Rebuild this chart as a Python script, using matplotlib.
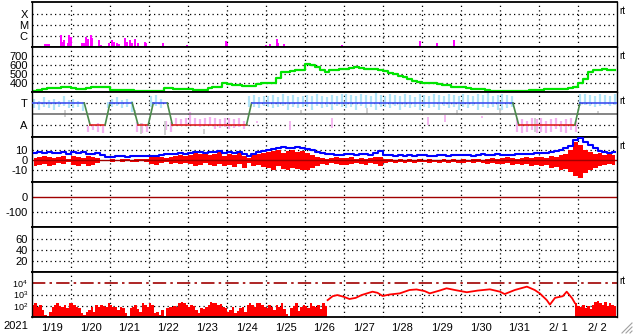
import numpy as np
import matplotlib
matplotlib.use("Agg")
import matplotlib.pyplot as plt
from matplotlib.lines import Line2D

plt.rcParams["font.family"] = ["Liberation Sans", "DejaVu Sans"]
plt.rcParams["mathtext.default"] = "regular"

# x axis: days since 2021-01-19 00:00
day_labels = ["1/19", "1/20", "1/21", "1/22", "1/23", "1/24", "1/25", "1/26",
              "1/27", "1/28", "1/29", "1/30", "1/31", "2/ 1", "2/ 2"]
year_label = "2021"

# panel 1: x-ray flares (decades above background, C=1, M=2, X=3)
flare_t = [0.33, 0.39, 0.44, 0.745, 0.80, 0.82, 0.92, 0.95, 1.01, 1.28, 1.34,
           1.39, 1.44, 1.52, 1.54, 1.72, 1.77, 1.98, 2.05, 2.11, 2.17, 2.23,
           2.39, 2.44, 2.52, 2.57, 2.65, 2.72, 2.90, 2.93, 3.37, 3.98, 4.98,
           5.01, 5.99, 6.11, 6.27, 6.32, 6.47, 7.94, 7.96, 8.89, 9.94, 10.39,
           10.83]
flare_h = [0.27, 0.25, 0.27, 1.1, 0.48, 0.64, 0.36, 1.1, 0.88, 0.4, 0.35,
           0.94, 0.75, 1.1, 0.85, 0.6, 0.2, 0.35, 0.6, 0.5, 0.4, 0.3,
           0.85, 0.5, 0.64, 0.35, 0.7, 0.35, 0.5, 0.35, 0.35, 0.2, 0.55,
           0.4, 0.2, 0.3, 0.73, 0.4, 0.25, 0.2, 0.18, 0.1, 0.55, 0.4,
           0.64]

# panel 2: solar wind speed (km/s), 3-hour values
speed = [315, 325, 333, 340, 345, 348, 350, 350,
         340, 338, 337, 340, 350, 352, 355, 358,
         322, 322, 320, 320, 318, 316, 315, 315,
         312, 311, 315, 340, 342, 338, 330, 330,
         328, 322, 320, 322, 340, 352, 355, 395,
         385, 378, 375, 372, 370, 368, 385, 398,
         398, 402, 450, 520, 525, 530, 545, 548,
         610, 595, 575, 545, 520, 540, 545, 550,
         560, 572, 575, 572, 560, 552, 550, 545,
         530, 510, 500, 480, 470, 440, 425, 410,
         405, 402, 400, 385, 378, 375, 360, 352,
         350, 340, 333, 333, 330, 322, 316, 315,
         316, 315, 315, 314, 315, 316, 318, 320,
         325, 328, 330, 330, 330, 332, 340, 358,
         400, 445, 520, 540, 545, 550, 540, 548]

# panel 3: IMF sector (T=1, A=0)
sector_t = [0, 1.34, 1.49, 1.875, 2.0, 2.57, 2.72, 2.98, 3.11, 3.47, 3.60,
            5.50, 5.63, 12.33, 12.48, 13.92, 14.05, 15]
sector_v = [1, 1, 0, 0, 1, 1, 0, 0, 1, 1, 0, 0, 1, 1, 0, 0, 1, 1]
phi_hi = [1.2, 1.1, 1.25, 1.15, 1.2, 1.1, 1.3, 1.15,
          1.2, 1.1, 1.0, -0.05, 0.0, 0.1, -0.05, 1.05,
          1.2, 1.25, 1.15, 1.2, 1.1, 0.15, 0.1, 0.05,
          1.3, 1.35, 1.2, 0.2, 0.15, 0.3, 0.25, 0.3,
          0.6, 0.3, 0.25, 0.3, 0.35, 0.3, 0.25, 0.3,
          0.3, 0.25, 0.3, 0.2, 1.3, 1.35, 1.25, 1.3,
          1.3, 1.35, 1.25, 1.4, 1.3, 1.35, 1.25, 1.3,
          1.35, 1.3, 1.4, 1.3, 1.25, 1.35, 1.3, 1.4,
          1.4, 1.35, 1.3, 1.4, 1.35, 1.3, 1.45, 1.35,
          1.3, 1.4, 1.35, 1.3, 1.4, 1.35, 1.25, 1.4,
          1.35, 1.3, 1.4, 1.35, 1.3, 1.4, 1.35, 1.3,
          1.4, 1.35, 1.3, 1.4, 1.35, 1.45, 1.3, 1.35,
          1.4, 1.35, 1.3, 0.3, 0.25, 0.2, 0.3, 0.25,
          0.3, 0.2, 0.25, 0.3, 0.2, 0.25, 0.3, 0.2,
          1.4, 1.4, 1.35, 1.3, 1.4, 1.35, 1.3, 1.4]
phi_lo = [0.75, 0.7, 0.8, 0.75, 0.7, 0.8, 0.85, 0.75,
          0.75, 0.8, 0.65, -0.3, -0.25, -0.3, -0.35, 0.75,
          0.8, 0.85, 0.75, 0.8, 0.6, -0.3, -0.35, -0.3,
          0.8, 0.85, 0.75, -0.25, -0.3, 0.0, -0.05, 0.0,
          0.05, 0.0, -0.1, 0.0, -0.05, -0.2, -0.15, -0.1,
          -0.2, -0.15, -0.1, -0.2, 0.8, 0.8, 0.75, 0.85,
          0.8, 0.75, 0.8, 0.85, 0.7, 0.8, 0.75, 0.8,
          0.8, 0.7, 0.85, 0.75, 0.8, 0.7, 0.85, 0.8,
          0.75, 0.8, 0.7, 0.85, 0.75, 0.8, 0.7, 0.8,
          0.8, 0.75, 0.85, 0.7, 0.8, 0.75, 0.8, 0.7,
          0.8, 0.75, 0.8, 0.7, 0.85, 0.75, 0.8, 0.7,
          0.8, 0.75, 0.85, 0.7, 0.8, 0.75, 0.8, 0.7,
          0.7, 0.75, 0.8, -0.3, -0.35, -0.3, -0.25, -0.35,
          -0.3, -0.35, -0.3, -0.2, -0.3, -0.35, -0.25, -0.3,
          0.85, 0.9, 0.85, 0.8, 0.85, 0.9, 0.85, 0.9]
gray_t = [0.85, 2.65, 2.8, 3.4, 4.4, 6.9, 8.6, 10.9, 12.0, 12.9, 14.5]
gray_lo = [0.35, 0.4, -0.4, -0.45, -0.4, 0.5, 0.5, 0.45, 0.55, -0.3, 0.5]
gray_hi = [0.7, 0.7, 0.1, 0.2, -0.2, 0.7, 0.75, 0.7, 0.75, 0.3, 0.65]
pink_t = [5.78, 6.62, 7.68, 10.15, 10.6, 11.55]
pink_lo = [0.1, -0.25, -0.15, 0.0, 0.15, 0.3]
pink_hi = [0.2, 0.2, 0.3, 0.35, 0.45, 0.4]

# panel 4: IMF Bt and Bz (nT), 3-hour values
bt = [7, 8, 7, 8, 7, 7, 8, 6,
      8, 7, 8, 6, 6, 7, 5, 3,
      3, 4, 4, 3, 4, 4, 4, 4,
      4, 4, 5, 6, 6, 6, 7, 6,
      7, 8, 8, 7, 8, 8, 9, 7,
      8, 7, 8, 6, 4, 6, 8, 9,
      10, 11, 12, 13, 12, 12, 13, 12,
      11, 10, 8, 7, 6, 6, 5, 5,
      6, 6, 5, 6, 6, 5, 7, 9,
      5, 5, 4, 5, 4, 5, 4, 5,
      5, 4, 4, 5, 5, 4, 5, 5,
      5, 5, 4, 5, 6, 5, 5, 6,
      5, 5, 5, 6, 6, 6, 6, 7,
      7, 7, 8, 9, 10, 12, 14, 20,
      22, 18, 15, 12, 9, 8, 7, 8]
bz_hi = [2, 3, 4, 3, 2, 3, 4, 1,
         4, 3, 2, 4, 3, 2, 0, 0,
         1, 0, 1, 1, 0, 1, 1, 1,
         4, 5, 3, 2, 3, 4, 5, 4,
         5, 7, 6, 8, 5, 6, 9, 4,
         6, 5, 7, 4, 2, 5, 6, 7,
         8, 9, 10, 7, 9, 10, 8, 9,
         7, 5, 3, 2, 1, 2, 3, 2,
         2, 3, 1, 2, 1, 2, 3, 3,
         1, 1, 0, 1, 0, 1, 0, 1,
         0, 1, 0, 0, 1, 0, 1, 0,
         1, 0, 1, 1, 0, 1, 2, 1,
         2, 3, 2, 1, 2, 3, 2, 3,
         3, 2, 4, 3, 5, 6, 10, 18,
         15, 10, 8, 6, 7, 5, 6, 5]
bz_lo = [-6, -5, -4, -6, -5, -3, -4, -2,
         -5, -6, -4, -6, -5, -3, -1, -1,
         -2, -1, -2, -1, -2, -2, -1, -2,
         -4, -5, -3, -2, -4, -3, -4, -3,
         -4, -6, -5, -3, -5, -6, -4, -6,
         -5, -7, -4, -8, -3, -6, -5, -7,
         -8, -10, -6, -9, -10, -8, -9, -10,
         -10, -8, -6, -4, -5, -3, -4, -5,
         -5, -4, -3, -4, -5, -3, -4, -6,
         -3, -2, -3, -2, -3, -2, -3, -2,
         -2, -3, -2, -3, -2, -3, -2, -3,
         -3, -2, -3, -2, -3, -4, -3, -4,
         -4, -3, -5, -4, -5, -4, -6, -5,
         -6, -5, -8, -7, -10, -9, -12, -16,
         -18, -13, -10, -8, -6, -5, -4, -5]

# panel 7: electron flux, log10 values
e_noise1 = [2.07, 2.21, 1.92, 2.07, 1.62, 1.18, 1.03, 1.47,
            1.92, 2.07, 2.21, 1.98, 1.86, 2.07, 1.77, 2.21,
            2.27, 2.07, 1.92, 1.77, 1.33, 1.18, 1.47, 1.62,
            1.92, 1.47, 2.07, 1.92, 2.07, 2.01, 1.92, 2.21,
            2.07, 1.92, 1.86, 1.62, 1.92, 1.77, 1.33, 1.03,
            1.77, 1.92, 2.07, 1.68, 1.47, 2.21, 2.07, 1.86,
            2.21, 2.07, 1.33, 1.47, 1.18, 1.62, 1.03, 1.77,
            1.92, 1.86, 1.98, 1.92, 2.21, 2.36, 2.21, 2.07,
            1.92, 2.07, 1.98, 1.62, 1.33, 1.77, 1.68, 1.86,
            2.07, 2.36, 2.21, 2.27, 2.07, 2.15, 1.92, 1.77,
            1.47, 1.62, 1.92, 1.33, 1.56, 1.77, 1.86, 1.47,
            2.07, 2.21, 2.07, 1.92, 2.21, 2.27, 2.07, 1.92,
            1.77, 2.07, 1.92, 1.62, 2.1, 1.9, 2.2, 1.7,
            1.2, 1.1, 1.8, 2.0, 2.2, 1.5, 1.9, 2.1,
            2.0, 1.8, 2.2, 2.0, 1.9, 2.1, 1.7, 2.2,
            2.0]
e_line_t = [7.58, 7.71, 7.83, 7.99, 8.14, 8.30, 8.45, 8.73, 8.86, 8.99,
            9.17, 9.43, 9.68, 9.86, 10.07, 10.20, 10.45, 10.63, 10.84, 11.15,
            11.43, 11.74, 12.00, 12.12, 12.38, 12.69, 12.89, 13.02, 13.20,
            13.28, 13.41, 13.61, 13.71, 13.85, 13.92]
e_line_v = [2.5, 2.85, 2.95, 2.8, 2.6, 2.7, 2.95, 3.25, 3.15, 2.87,
            3.0, 3.1, 3.4, 3.45, 3.3, 3.1, 3.35, 3.55, 3.4, 3.2,
            3.35, 3.46, 3.25, 3.04, 3.4, 3.7, 3.4, 3.1, 2.5,
            2.1, 2.7, 2.85, 3.25, 2.66, 2.24]
e_noise2_start = 13.92
e_noise2 = [2.2, 2.0, 1.9, 2.1, 1.8, 2.0, 1.7, 2.1, 2.3, 2.4, 2.2, 2.1,
            2.3, 2.0, 2.2, 2.1, 2.0]

DOT = (0, (1, 2.6))
DARKRED = "#a00000"


def style(ax, ticks, labels, grid, ylim, rt=True, log=False, size=8):
    if log:
        ax.set_yscale("log")
    ax.set_xlim(0, 15)
    ax.set_ylim(*ylim)
    for d in range(1, 15):
        ax.axvline(d, color="k", lw=0.9, ls=DOT, zorder=0.5)
    for g in grid:
        ax.axhline(g, color="k", lw=0.9, ls=DOT, zorder=0.5)
    ax.set_yticks(ticks, labels)
    ax.minorticks_off()
    ax.set_xticks([])
    ax.tick_params(length=0, pad=3, labelsize=size)
    for side in ["left", "right"]:
        ax.spines[side].set_linewidth(1.0)
    for side in ["top", "bottom"]:
        ax.spines[side].set_linewidth(1.3)
    if rt:
        ax.text(1.004, 0.8, "rt", transform=ax.transAxes, fontsize=7,
                ha="left", va="center")


fig = plt.figure(figsize=(6.33, 3.34), dpi=100)
gs = fig.add_gridspec(7, 1, left=32 / 633, right=617 / 633,
                      bottom=17 / 334, top=332 / 334, hspace=0)
axs = [fig.add_subplot(gs[i]) for i in range(7)]

t3 = np.arange(len(speed)) / 8 + 1 / 16

# x-ray
ax = axs[0]
ax.vlines(flare_t, 0, flare_h, color="#ff00ff", lw=1.4)
style(ax, [1, 2, 3], ["C", "M", "X"], [1, 2, 3], (0, 4.1))

# speed
ax = axs[1]
ax.plot(t3, speed, color="#00e400", lw=1.6, drawstyle="steps-mid")
style(ax, [400, 500, 600, 700], ["400", "500", "600", "700"],
      [400, 500, 600, 700], (300, 800))

# sector
ax = axs[2]
phi_hi_a = np.array(phi_hi)
phi_lo_a = np.array(phi_lo)
cols = np.where((phi_hi_a + phi_lo_a) / 2 > 0.5, "#b0e4f8", "#f4b0f0")
ax.vlines(t3, phi_lo_a, phi_hi_a, colors=cols, lw=1.6, zorder=1)
ax.vlines(gray_t, gray_lo, gray_hi, color="#cccccc", lw=1.3, zorder=1)
ax.vlines(pink_t, pink_lo, pink_hi, color="#f4b0f0", lw=1.3, zorder=1)
ax.axhline(0.5, color="#707070", lw=1.2, zorder=2)
for i in range(len(sector_t) - 1):
    v0, v1 = sector_v[i], sector_v[i + 1]
    c = "#4050f0" if v0 == v1 == 1 else ("#e02020" if v0 == v1 == 0 else "#4a8a4a")
    ax.plot(sector_t[i:i + 2], [v0, v1], color=c, lw=1.2, zorder=3)
style(ax, [1, 0], ["T", "A"], [1, 0], (-0.55, 1.5))

# IMF
ax = axs[3]
ax.fill_between(t3, bz_lo, bz_hi, step="mid", color="#ff0000", lw=0, zorder=1)
ax.axhline(0, color=DARKRED, lw=1.0, zorder=2)
ax.plot(t3, bt, color="#0000ff", lw=1.5, drawstyle="steps-mid", zorder=3)
style(ax, [10, 0, -10], ["10", "0", "-10"], [10, -10], (-22, 23))

# Dst
ax = axs[4]
ax.axhline(0, color=DARKRED, lw=1.0, zorder=2)
style(ax, [0, -100], ["0", "-100"], [-100], (-200, 100), rt=False)

# empty index panel
ax = axs[5]
style(ax, [20, 40, 60], ["20", "40", "60"], [20, 40, 60], (0, 82), rt=False)

# electrons
ax = axs[6]
style(ax, [1e2, 1e3, 1e4], ["$10^2$", "$10^3$", "$10^4$"], [1e2, 1e3],
      (10, 1e5), log=True, size=6.5)
w = 1 / 16
n1_t = np.arange(len(e_noise1)) * w
ax.bar(n1_t, 10 ** np.array(e_noise1), width=w, bottom=1, align="edge",
       color="#ff0000", lw=0, zorder=1)
ax.plot(e_line_t, 10 ** np.array(e_line_v), color="#ff0000", lw=1.3, zorder=1)
n2_t = e_noise2_start + np.arange(len(e_noise2)) * w
ax.bar(n2_t, 10 ** np.array(e_noise2), width=w, bottom=1, align="edge",
       color="#ff0000", lw=0, zorder=1)
ax.axhline(1e4, color=DARKRED, lw=1.2, ls=(0, (8, 2.5, 1.5, 2.5)), zorder=2)
ax.set_xticks(np.arange(15) + 0.5, day_labels)
ax.tick_params(axis="x", length=0, pad=4, labelsize=8)
fig.text(16 / 633, 1 - 326 / 334, year_label, fontsize=8, ha="center",
         va="center")

# resize grip in the corner
for k in range(3):
    o = 4 * k
    fig.add_artist(Line2D([(622 + o) / 633, 632 / 633],
                          [1 - 333 / 334, 1 - (323 + o) / 334],
                          color="#a0a0a0", lw=0.8))

fig.savefig("out.png", dpi=100)
